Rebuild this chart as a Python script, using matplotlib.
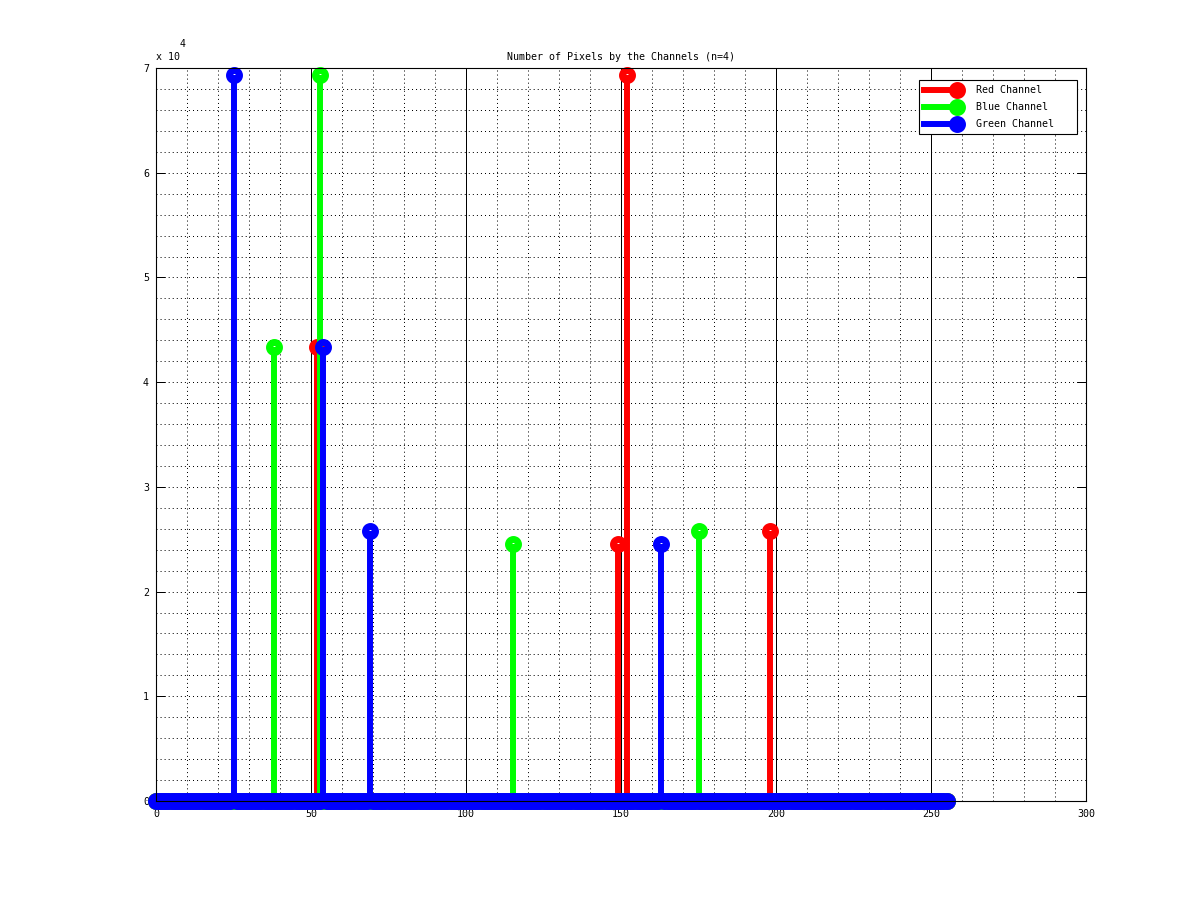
import numpy as np
import matplotlib
matplotlib.use("Agg")
import matplotlib.pyplot as plt
from matplotlib.lines import Line2D
from matplotlib.legend_handler import HandlerBase
from matplotlib.ticker import MultipleLocator, FuncFormatter

plt.rcParams['font.family'] = ['DejaVu Sans Mono']
plt.rcParams['font.size'] = 7.2
plt.rcParams['lines.scale_dashes'] = False

# histogram bins with non-zero counts (n=4 levels per channel)
red_bins = [52, 149, 152, 198]
red_counts = [43400, 24500, 69300, 25800]
blue_bins = [38, 53, 115, 175]
blue_counts = [43400, 69300, 24500, 25800]
green_bins = [25, 54, 69, 163]
green_counts = [69300, 43400, 25800, 24500]

labels = ["Red Channel", "Blue Channel", "Green Channel"]
colors = ["#ff0000", "#00ff00", "#0000ff"]

levels = np.arange(256)

MS = 7.2    # marker size
MEW = 5.0   # marker edge width
LW = 4.3    # stem width


def full_hist(bins, counts):
    h = np.zeros(256)
    h[bins] = counts
    return h


series = [full_hist(red_bins, red_counts),
          full_hist(blue_bins, blue_counts),
          full_hist(green_bins, green_counts)]

fig = plt.figure(figsize=(12, 9), dpi=100)
ax = fig.add_axes([0.13, 0.11, 0.775, 0.8144])

for h, c in zip(series, colors):
    ml, sl, bl = ax.stem(levels, h, basefmt=' ')
    sl.set_color(c)
    sl.set_linewidth(LW)
    ml.set_marker('o')
    ml.set_markersize(MS)
    ml.set_markerfacecolor('none')
    ml.set_markeredgecolor(c)
    ml.set_markeredgewidth(MEW)
    ml.set_linestyle('none')
    ml.set_clip_on(False)

ax.set_xlim(0, 300)
ax.set_ylim(0, 70000)
ax.xaxis.set_major_locator(MultipleLocator(50))
ax.xaxis.set_minor_locator(MultipleLocator(10))
ax.yaxis.set_major_locator(MultipleLocator(10000))
ax.yaxis.set_minor_locator(MultipleLocator(2000))
ax.yaxis.set_major_formatter(FuncFormatter(lambda v, p: "%d" % round(v / 10000)))

dots = (0, (0.72, 2.2))
ax.grid(which='minor', color='k', linestyle=dots, linewidth=0.72)
ax.grid(which='major', axis='y', color='k', linestyle=dots, linewidth=0.72)
ax.grid(which='major', axis='x', color='k', linestyle='-', linewidth=0.72)
ax.set_axisbelow(True)
ax.tick_params(which='major', direction='in', top=True, right=True, length=6.5, width=0.72)
ax.tick_params(which='minor', length=0)
ax.tick_params(axis='x', pad=6)
ax.tick_params(axis='y', pad=5)
for s in ax.spines.values():
    s.set_linewidth(0.8)

ax.set_title("Number of Pixels by the Channels (n=4)", fontsize=7.2, pad=6)
fig.text(0.13, 0.9367, "x 10", fontsize=7.2, ha='left', va='center')
fig.text(0.1495, 0.951, "4", fontsize=7.2, ha='left', va='center')


class StemHandler(HandlerBase):
    def create_artists(self, legend, orig_handle, xdescent, ydescent,
                       width, height, fontsize, trans):
        c = orig_handle.get_color()
        y = height / 2 - ydescent
        line = Line2D([-xdescent, width - xdescent], [y, y], color=c, linewidth=LW)
        mk = Line2D([width - xdescent], [y], marker='o', markersize=MS,
                    markerfacecolor='none', markeredgecolor=c, markeredgewidth=MEW,
                    linestyle='none')
        line.set_transform(trans)
        mk.set_transform(trans)
        return [line, mk]


handles = [Line2D([], [], color=c) for c in colors]
leg = ax.legend(handles, [s + "   " for s in labels], loc='upper right',
                bbox_to_anchor=(1 - 9 / 930, 1 - 12 / 733),
                handler_map={Line2D: StemHandler()},
                fancybox=False, frameon=True, edgecolor='k', framealpha=1,
                handlelength=3.3, handletextpad=1.9, borderaxespad=0,
                labelspacing=0.7, borderpad=0.5, fontsize=7.2)
leg.get_frame().set_linewidth(0.8)

fig.savefig("out.png", dpi=100, facecolor='white')
